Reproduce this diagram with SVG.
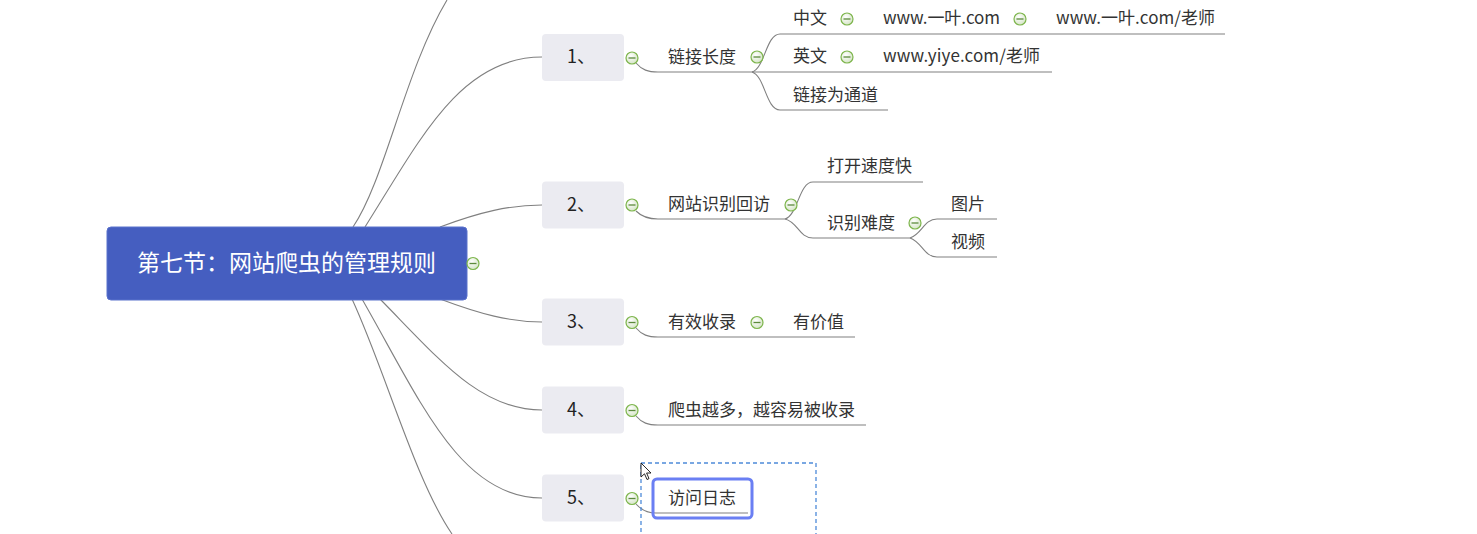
<svg xmlns="http://www.w3.org/2000/svg" width="1477" height="534" viewBox="0 0 1477 534">
<defs>
<radialGradient id="cg" cx="40%" cy="35%" r="70%">
<stop offset="0" stop-color="#ffffff"/>
<stop offset="1" stop-color="#d3e3c4"/>
</radialGradient>
<style>
.t{font-family:"Noto Sans CJK SC","Microsoft YaHei",sans-serif;font-size:17px;fill:#333333}
.num{font-family:"Noto Sans CJK SC","Liberation Sans",sans-serif;font-size:18px;fill:#222222}
.root{font-family:"Noto Sans CJK SC",sans-serif;font-size:23px;fill:#ffffff}
.box{fill:#ebebf1;stroke:none}
.c{fill:url(#cg);stroke:#7db54c;stroke-width:1.2}
.m{stroke:#5c8a3c;stroke-width:1.3}
.ln{fill:none;stroke:#808080;stroke-width:1.1}
</style>
</defs>
<rect width="1477" height="534" fill="#ffffff"/>
<g id="connectors">
<path class="ln" d="M353,227 C385,180 405,70 447,0"/>
<path class="ln" d="M365,227 C420,140 460,57 542,57"/>
<path class="ln" d="M440,227 C480,212 510,205 542,205"/>
<path class="ln" d="M440,299 C480,314 510,322 542,322"/>
<path class="ln" d="M380,299 C440,360 480,410 542,410"/>
<path class="ln" d="M362,299 C420,400 460,498 542,498"/>
<path class="ln" d="M352,299 C385,370 415,480 452,534"/>
<path class="ln" d="M636,63 C642,70 648,72 658,72 H752"/>
<path class="ln" d="M752,72 C765,68 766,34 780,34 H1225"/>
<path class="ln" d="M752,72 H1052"/>
<path class="ln" d="M752,72 C765,76 766,110 780,110 H888"/>
<path class="ln" d="M636,211 C642,217 648,219 658,219 H785"/>
<path class="ln" d="M785,219 C798,215 799,182 813,182 H923"/>
<path class="ln" d="M785,219 C798,222 799,238 813,238 H910"/>
<path class="ln" d="M910,238 C922,234 924,219 937,219 H997"/>
<path class="ln" d="M910,238 C922,242 924,257 937,257 H997"/>
<path class="ln" d="M636,328 C642,335 648,337 658,337 H855"/>
<path class="ln" d="M636,416 C642,423 648,425 658,425 H866"/>
<path class="ln" d="M636,504 C642,511 648,513 656,513 H748"/>
</g>
<g id="root">
<rect x="107" y="227" width="360" height="73" rx="4" fill="#455ec0" stroke="#5b72cc" stroke-width="1"/>
<text class="root" x="137" y="271">第七节：网站爬虫的管理规则</text>
<circle class="c" cx="473" cy="263.5" r="6"/><line class="m" x1="469.5" y1="263.5" x2="476.5" y2="263.5"/>
</g>
<g id="n1">
<rect class="box" x="542" y="34" width="82" height="47" rx="4"/>
<text class="num" x="567" y="63">1、</text>
<circle class="c" cx="632" cy="58" r="6"/><line class="m" x1="628.5" y1="58" x2="635.5" y2="58"/>
</g>
<g id="n1a">
<text class="t" x="668" y="63">链接长度</text>
<circle class="c" cx="757" cy="57" r="6"/><line class="m" x1="753.5" y1="57" x2="760.5" y2="57"/>
</g>
<g id="n1a1">
<text class="t" x="793" y="24">中文</text>
<circle class="c" cx="847" cy="19" r="6"/><line class="m" x1="843.5" y1="19" x2="850.5" y2="19"/>
</g>
<g id="n1a1a">
<text class="t" x="883" y="24" textLength="117">www.一叶.com</text>
<circle class="c" cx="1020" cy="19" r="6"/><line class="m" x1="1016.5" y1="19" x2="1023.5" y2="19"/>
</g>
<g id="n1a1b">
<text class="t" x="1056" y="24" textLength="159">www.一叶.com/老师</text>
</g>
<g id="n1a2">
<text class="t" x="793" y="62">英文</text>
<circle class="c" cx="847" cy="57" r="6"/><line class="m" x1="843.5" y1="57" x2="850.5" y2="57"/>
</g>
<g id="n1a2a">
<text class="t" x="883" y="62" textLength="157">www.yiye.com/老师</text>
</g>
<g id="n1a3">
<text class="t" x="793" y="101">链接为通道</text>
</g>
<g id="n2">
<rect class="box" x="542" y="181.5" width="82" height="47" rx="4"/>
<text class="num" x="567" y="211">2、</text>
<circle class="c" cx="632" cy="205" r="6"/><line class="m" x1="628.5" y1="205" x2="635.5" y2="205"/>
</g>
<g id="n2a">
<text class="t" x="668" y="210">网站识别回访</text>
<circle class="c" cx="791" cy="205" r="6"/><line class="m" x1="787.5" y1="205" x2="794.5" y2="205"/>
</g>
<g id="n2a1">
<text class="t" x="827" y="172">打开速度快</text>
</g>
<g id="n2a2">
<text class="t" x="827" y="229">识别难度</text>
<circle class="c" cx="915" cy="223" r="6"/><line class="m" x1="911.5" y1="223" x2="918.5" y2="223"/>
</g>
<g id="n2a2a">
<text class="t" x="951" y="210">图片</text>
</g>
<g id="n2a2b">
<text class="t" x="951" y="248">视频</text>
</g>
<g id="n3">
<rect class="box" x="542" y="298.5" width="82" height="47" rx="4"/>
<text class="num" x="567" y="328">3、</text>
<circle class="c" cx="632" cy="322.5" r="6"/><line class="m" x1="628.5" y1="322.5" x2="635.5" y2="322.5"/>
</g>
<g id="n3a">
<text class="t" x="668" y="328">有效收录</text>
<circle class="c" cx="757" cy="322.5" r="6"/><line class="m" x1="753.5" y1="322.5" x2="760.5" y2="322.5"/>
</g>
<g id="n3a1">
<text class="t" x="793" y="328">有价值</text>
</g>
<g id="n4">
<rect class="box" x="542" y="386.5" width="82" height="47" rx="4"/>
<text class="num" x="567" y="416">4、</text>
<circle class="c" cx="632" cy="410.5" r="6"/><line class="m" x1="628.5" y1="410.5" x2="635.5" y2="410.5"/>
</g>
<g id="n4a">
<text class="t" x="668" y="416">爬虫越多，越容易被收录</text>
</g>
<g id="n5">
<rect class="box" x="542" y="474.5" width="82" height="47" rx="4"/>
<text class="num" x="567" y="504">5、</text>
<circle class="c" cx="632" cy="498.5" r="6"/><line class="m" x1="628.5" y1="498.5" x2="635.5" y2="498.5"/>
</g>
<g id="n5a">
<rect x="641" y="463" width="175" height="80" fill="none" stroke="#4d8ad9" stroke-width="1.3" stroke-dasharray="4,3"/>
<rect x="653" y="479" width="99" height="39" rx="4" fill="none" stroke="#6a7ff3" stroke-width="3"/>
<text class="t" x="668" y="504">访问日志</text>
</g>
<g id="cursor">
<path d="M641,463 L641,477 L644.5,473.8 L647,479.5 L649,478.6 L646.6,473 L651,473 Z" fill="#ffffff" stroke="#111111" stroke-width="0.9" stroke-linejoin="round"/>
</g>
</svg>
